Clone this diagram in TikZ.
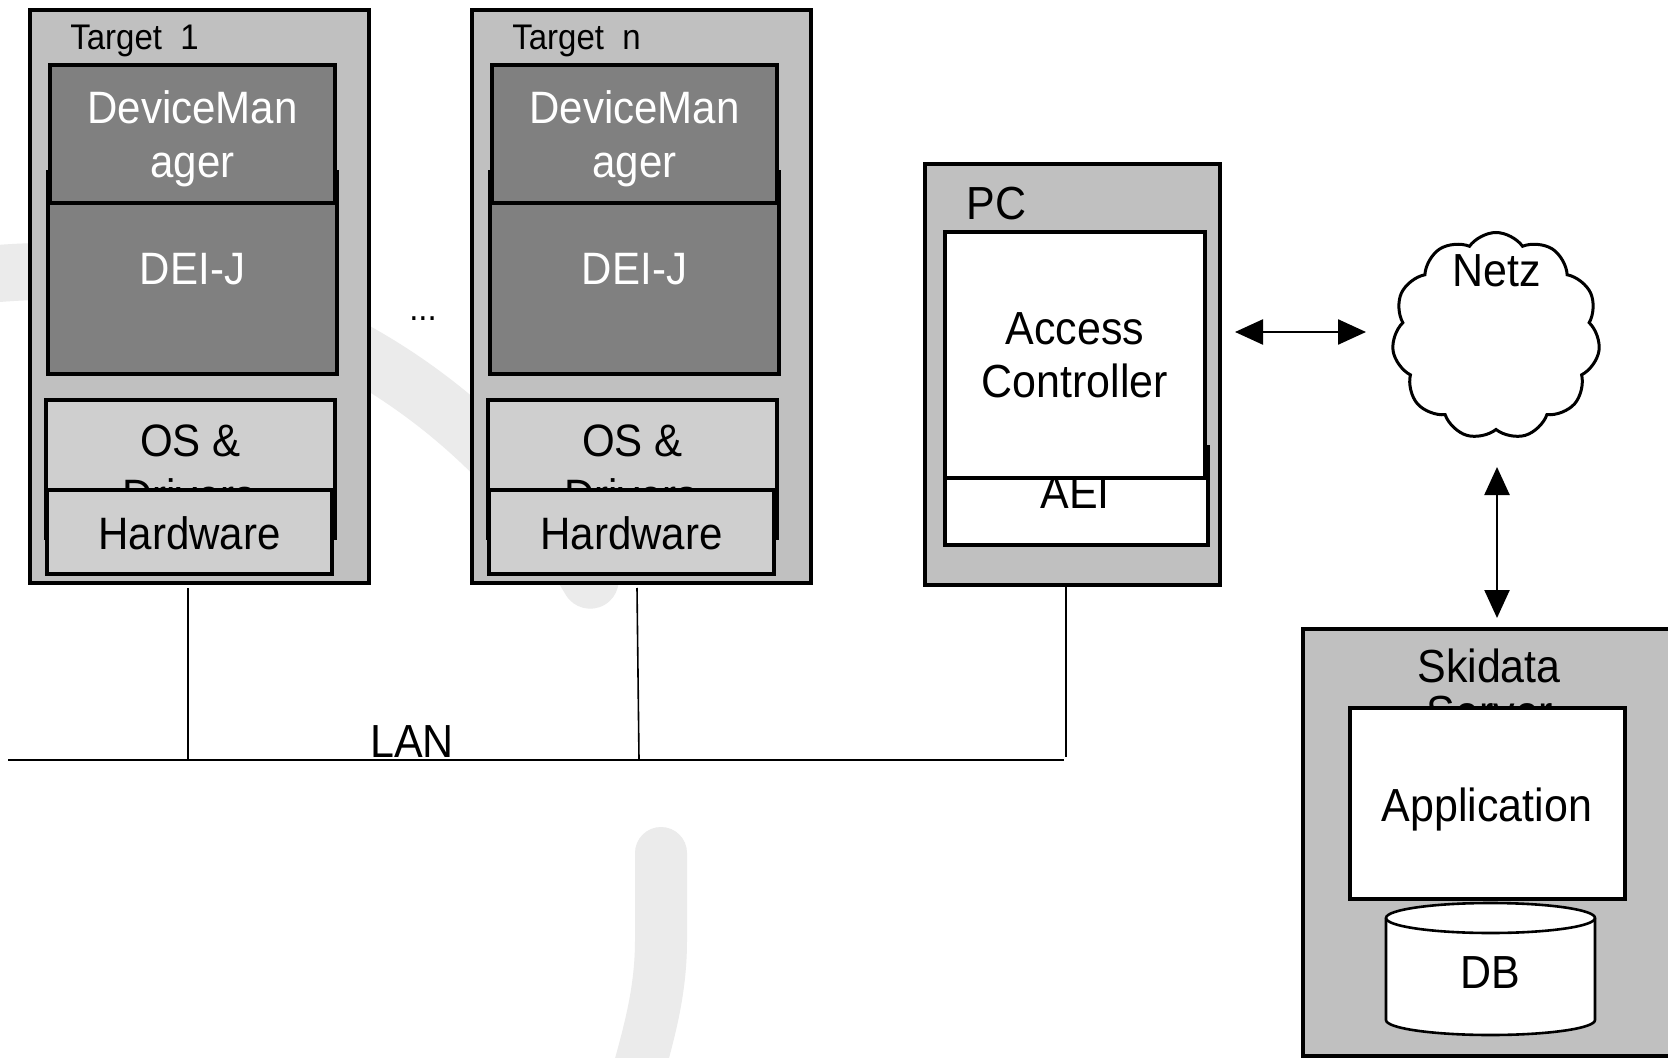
\documentclass[tikz,border=0pt]{standalone}
\usepackage{fontspec}
\setmainfont{Liberation Sans}[FakeStretch=0.926]
\usetikzlibrary{fit,arrows.meta,shapes.symbols}
\definecolor{silv}{HTML}{C0C0C0}
\definecolor{dkg}{HTML}{808080}
\definecolor{ltg}{HTML}{CFCFCF}
\definecolor{wm}{HTML}{EBEBEB}
\tikzset{
 px/.style={x=0.5pt,y=-0.5pt},
 bx/.style={draw=black, line width=1.7pt, inner sep=0pt, outer sep=0pt},
 outerbox/.style={bx, fill=silv},
 darkbox/.style={bx, fill=dkg},
 lightbox/.style={bx, fill=ltg},
 whitebox/.style={bx, fill=white},
 txt/.style={anchor=base, inner sep=0pt, font=\fontsize{22.7}{27}\selectfont},
 wtxt/.style={txt, text=white},
 ttl/.style={anchor=base, inner sep=0pt, font=\fontsize{17.8}{21}\selectfont},
 big/.style={anchor=base, inner sep=0pt, font=\fontsize{23.2}{28}\selectfont},
 conn/.style={draw=black, line width=0.8pt},
 dblarrow/.style={line width=1.2pt, {Triangle[length=14pt,width=12.5pt]}-{Triangle[length=14pt,width=12.5pt]}},
 wmark/.style={draw=wm, line cap=round},
}
\begin{document}
\begin{tikzpicture}[px]
\useasboundingbox (0,0) rectangle (1668,1058);
\fill[white] (0,0) rectangle (1668,1058);
\clip (0,0) rectangle (1668,1058);
% watermark
\draw[wmark, line width=28.5pt] (-17.6,275) .. controls (227.5,249) and (465.8,367.4) .. (590.2,580.2);
\draw[wmark, line width=26pt] (661,853) -- (661,940) .. controls (661,990) and (650,1030) .. (636,1080);

% Target 1
\node[outerbox, fit={(30,10) (369,583)}] (t1) {};
\node[ttl] (t1title) at (134.5,50) {Target~~1};
\node[darkbox, fit={(48,172) (337,374)}] (t1dei) {};
\node[darkbox, fit={(50,65) (335,203)}] (t1dm) {};
\node[wtxt] (t1dmA) at (192.5,124) {DeviceMan};
\node[wtxt] (t1dmB) at (192.5,178) {ager};
\node[wtxt] (t1deiT) at (192.5,285) {DEI-J};
\node[lightbox, fit={(46,400) (335,538)}] (t1os) {};
\node[txt] (t1osA) at (190.5,457) {OS \&};
\node[txt] (t1osB) at (189,511) {Drivers};
\node[lightbox, fit={(47,490) (332,574)}] (t1hw) {};
\node[txt] (t1hwT) at (189.5,549) {Hardware};

% Target n
\node[outerbox, fit={(472,10) (811,583)}] (tn) {};
\node[ttl] (tntitle) at (576.5,50) {Target~~n};
\node[darkbox, fit={(490,172) (779,374)}] (tndei) {};
\node[darkbox, fit={(492,65) (777,203)}] (tndm) {};
\node[wtxt] (tndmA) at (634.5,124) {DeviceMan};
\node[wtxt] (tndmB) at (634.5,178) {ager};
\node[wtxt] (tndeiT) at (634.5,285) {DEI-J};
\node[lightbox, fit={(488,400) (777,538)}] (tnos) {};
\node[txt] (tnosA) at (632.5,457) {OS \&};
\node[txt] (tnosB) at (631,511) {Drivers};
\node[lightbox, fit={(489,490) (774,574)}] (tnhw) {};
\node[txt] (tnhwT) at (631.5,549) {Hardware};

\node[ttl] (dots) at (423,321) {...};

% PC
\node[outerbox, fit={(925,164) (1220,585)}] (pc) {};
\node[big] (pcT) at (996.5,220) {PC};
\node[whitebox, fit={(945,447) (1208,545)}] (aei) {};
\node[big] (aeiT) at (1075,508) {AEI};
\node[whitebox, fit={(945,232) (1205,478)}] (ac) {};
\node[big] (acA) at (1075,345) {Access};
\node[big] (acB) at (1075,398) {Controller};

% Netz
\node[cloud, draw, line width=1.5pt, fill=white, cloud puffs=11, cloud puff arc=110, aspect=1, minimum width=104pt, minimum height=103.5pt, inner sep=0pt] (netz) at (1496,336) {};
\node[big] (netzT) at (1497,287) {Netz};

% Skidata server
\node[outerbox, fit={(1303,629) (1690,1056)}] (srv) {};
\node[big] (srvA) at (1489,682) {Skidata};
\node[big] (srvB) at (1490,728) {Server};
\node[whitebox, fit={(1350,708) (1625,899)}] (app) {};
\node[big] (appT) at (1487,821) {Application};
\path[draw=black, line width=1.3pt, fill=white] (1386,918) -- (1386,1020)
  arc[start angle=180, end angle=360, x radius=52.25pt, y radius=7.5pt] -- (1595,918)
  arc[start angle=0, end angle=180, x radius=52.25pt, y radius=7.5pt] -- cycle;
\draw[line width=1.3pt] (1386,918) arc[start angle=180, end angle=360, x radius=52.25pt, y radius=7.5pt];
\node[big] (db) at (1490,988) {DB};

% LAN
\coordinate (lanL) at (8,760);
\coordinate (lanR) at (1064,760);
\draw[line width=1.2pt] (lanL) -- (lanR);
\node[big] (lan) at (412,757) {LAN};
\coordinate (v1a) at (188,588); \coordinate (v1b) at (188,760);
\coordinate (v2a) at (637,588); \coordinate (v2b) at (639,760);
\coordinate (v3a) at (1066,586); \coordinate (v3b) at (1066,757);
\draw[conn] (v1a) -- (v1b);
\draw[conn] (v2a) -- (v2b);
\draw[conn, line width=1pt] (v3a) -- (v3b);

% arrows
\coordinate (ha) at (1235,332); \coordinate (hb) at (1366,332);
\draw[dblarrow] (ha) -- (hb);
\coordinate (va) at (1497,467); \coordinate (vb) at (1497,618);
\draw[dblarrow] (va) -- (vb);
\end{tikzpicture}
\end{document}
